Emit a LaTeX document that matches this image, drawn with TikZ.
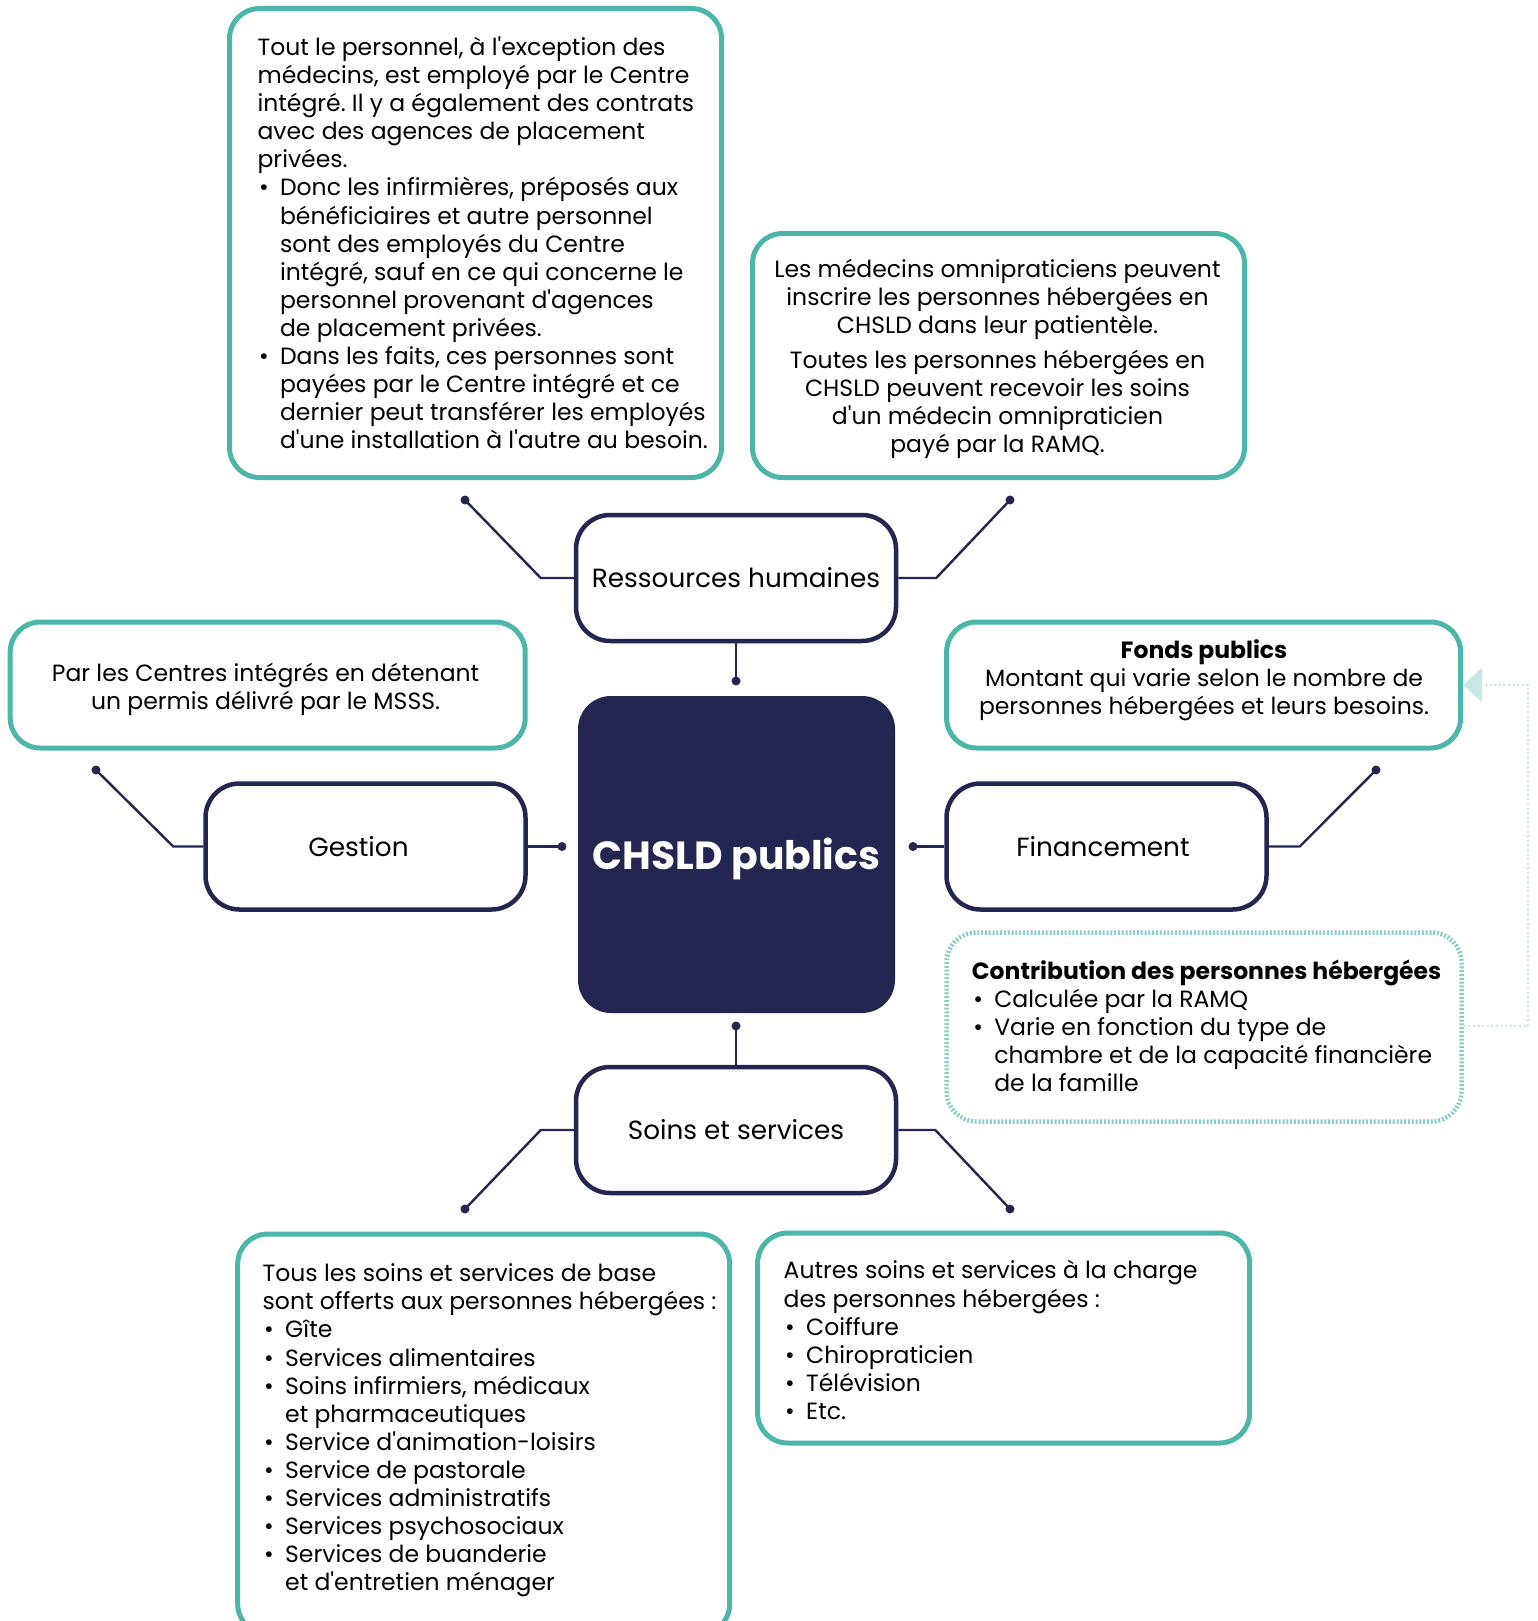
\documentclass[tikz,border=0pt]{standalone}
\usepackage{fontspec}
\newfontfamily\pop{Poppins}
\usetikzlibrary{arrows.meta}
\definecolor{tealc}{RGB}{77,182,170}
\definecolor{navyc}{RGB}{36,38,82}
\definecolor{dotc}{RGB}{138,206,200}
\definecolor{linkc}{RGB}{200,232,230}
\newcommand\itm{\hspace*{1.5pt}\makebox[21pt][l]{\textbullet}}
\newcommand\cnt{\hspace*{22.5pt}}
\tikzset{
  body/.style={font={\pop\frenchspacing\fontsize{23.5}{28.1}\selectfont}, text=black, inner sep=0pt},
  infobox/.style={draw=tealc, line width=5pt, rounded corners=30pt, fill=white, inner sep=0pt},
  topicbox/.style={draw=navyc, line width=4.5pt, rounded corners=34pt, fill=white,
    minimum width=320pt, minimum height=126pt, font={\pop\fontsize{26.3}{30}\selectfont}},
  conn/.style={draw=navyc, line width=2.4pt},
  pin/.style={fill=navyc},
  softlink/.style={draw=linkc, line width=2.6pt, dash pattern=on 2pt off 2.6pt}
}
\begin{document}
\begin{tikzpicture}[x=1pt,y=-1pt]
\useasboundingbox[fill=white] (0,0) rectangle (1538,1621);

% central topic
\node[fill=navyc, rounded corners=33pt, minimum width=317pt, minimum height=317pt] (core) at (736.5,854.5) {};
\node[text=white, font={\pop\bfseries\fontsize{39.3}{42}\selectfont}] (corelbl) at ([yshift=-4pt]core.center) {CHSLD publics};

% topic boxes
\node[topicbox] (rh) at (736,578) {Ressources humaines};
\node[topicbox] (ges) at (365.5,846.5) {Gestion\hspace*{14pt}};
\node[topicbox] (fin) at (1106.5,846.5) {Financement\hspace*{7pt}};
\node[topicbox] (soins) at (736,1130) {Soins et services};

% information boxes (frames)
\node[infobox, minimum width=492pt, minimum height=469pt] (staff) at (475.5,243) {};
\node[infobox, minimum width=492pt, minimum height=244pt] (doc) at (998.5,355.5) {};
\node[infobox, minimum width=515pt, minimum height=126pt] (perm) at (267.7,685) {};
\node[infobox, minimum width=514pt, minimum height=126pt] (fonds) at (1203.6,685) {};
\node[draw=dotc, line width=4.5pt, dash pattern=on 2pt off 1.8pt, rounded corners=30pt,
  minimum width=515pt, minimum height=189pt, inner sep=0pt] (contrib) at (1204,1027) {};
\node[infobox, minimum width=492pt, minimum height=400pt] (base) at (483.7,1434) {};
\node[infobox, minimum width=492pt, minimum height=210pt] (extra) at (1003.6,1338) {};

% information texts
\node[body, anchor=west, align=left] (stafftxt) at (257.4,242.9) {%
Tout le personnel, à l'exception des\\
médecins, est employé par le Centre\\
intégré. Il y a également des contrats\\
avec des agences de placement\\
privées.\\
\itm Donc les infirmières, préposés aux\\
\cnt bénéficiaires et autre personnel\\
\cnt sont des employés du Centre\\
\cnt intégré, sauf en ce qui concerne le\\
\cnt personnel provenant d'agences\\
\cnt de placement privées.\\
\itm Dans les faits, ces personnes sont\\
\cnt payées par le Centre intégré et ce\\
\cnt dernier peut transférer les employés\\
\cnt d'une installation à l'autre au besoin.};

\node[body, align=center] (doctxt) at (997.5,359) {%
Les médecins omnipraticiens peuvent\\
inscrire les personnes hébergées en\\
CHSLD dans leur patientèle.\\[7pt]
Toutes les personnes hébergées en\\
CHSLD peuvent recevoir les soins\\
d'un médecin omnipraticien\\
payé par la RAMQ.};

\node[body, align=center] (permtxt) at (265.6,689) {%
Par les Centres intégrés en détenant\\
un permis délivré par le MSSS.};

\node[body, align=center] (fondstxt) at (1204,680.2) {%
\textbf{Fonds publics}\\
Montant qui varie selon le nombre de\\
personnes hébergées et leurs besoins.};

\node[body, anchor=west, align=left] (contribtxt) at (971.6,1025.9) {%
\textbf{Contribution des personnes hébergées}\\
\itm Calculée par la RAMQ\\
\itm Varie en fonction du type de\\
\cnt chambre et de la capacité financière\\
\cnt de la famille};

\node[body, anchor=west, align=left] (basetxt) at (262.5,1430.5) {%
Tous les soins et services de base\\
sont offerts aux personnes hébergées :\\
\itm Gîte\\
\itm Services alimentaires\\
\itm Soins infirmiers, médicaux\\
\cnt et pharmaceutiques\\
\itm Service d'animation-loisirs\\
\itm Service de pastorale\\
\itm Services administratifs\\
\itm Services psychosociaux\\
\itm Services de buanderie\\
\cnt et d'entretien ménager};

\node[body, anchor=west, align=left] (extratxt) at (783.5,1340.1) {%
Autres soins et services à la charge\\
des personnes hébergées :\\
\itm Coiffure\\
\itm Chiropraticien\\
\itm Télévision\\
\itm Etc.};

% connector end points
\coordinate (rhA) at (465,500);
\coordinate (rhB) at (1010,500);
\coordinate (rhC) at (736,681);
\coordinate (gA) at (96,770);
\coordinate (gB) at (562,846.5);
\coordinate (fA) at (913,846.5);
\coordinate (fB) at (1376,770);
\coordinate (sA) at (736,1026);
\coordinate (sB) at (465,1209);
\coordinate (sC) at (1010,1209);

% connectors
\draw[conn] (rh.west) -- ++(-33,0) -- (rhA);
\draw[conn] (rh.east) -- ++(38,0) -- (rhB);
\draw[conn] (rh.south) -- (rhC);
\draw[conn] (ges.west) -- ++(-30,0) -- (gA);
\draw[conn] (ges.east) -- (gB);
\draw[conn] (fin.west) -- (fA);
\draw[conn] (fin.east) -- ++(31,0) -- (fB);
\draw[conn] (soins.north) -- (sA);
\draw[conn] (soins.west) -- ++(-33,0) -- (sB);
\draw[conn] (soins.east) -- ++(37,0) -- (sC);
\foreach \p in {rhA,rhB,rhC,gA,gB,fA,fB,sA,sB,sC}
  \fill[pin] (\p) circle (4.5pt);

% link from the contribution to the public funds
\coordinate (bend1) at (1528,1026);
\coordinate (bend2) at (1528,685);
\draw[softlink, -{Triangle[length=19pt,width=34pt,fill=linkc]}]
  (contrib.east |- bend1) -- (bend1) -- (bend2) -- (fonds.east);
\end{tikzpicture}
\end{document}
